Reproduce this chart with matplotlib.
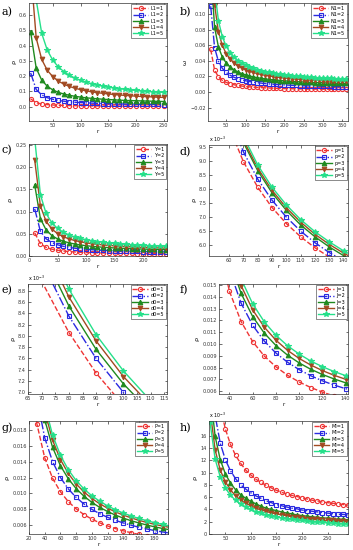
import numpy as np
import matplotlib
matplotlib.use('Agg')
import matplotlib.pyplot as plt

# ---------------- data (values in units of 1e-3) ----------------
r_a = list(range(10, 260, 10))
a_1 = [50, 25, 16.7, 12.5, 10, 8.3, 7.1, 6.3, 5.6, 5, 4.5, 4.2, 3.8, 3.6, 3.3, 3.1, 2.9, 2.8, 2.6, 2.5, 2.4, 2.3, 2.2, 2.1, 2.0]
a_2 = [220, 112, 76, 58, 48, 40, 35, 31, 28, 26, 24, 22.4, 21, 19.8, 18.8, 17.9, 17.1, 16.4, 15.8, 15.2, 14.7, 14.2, 13.8, 13.4, 13.0]
a_3 = [490, 252, 173, 133, 109, 93, 82, 74, 67, 62, 57, 54, 51, 48, 46, 44, 42, 40, 39, 38, 37, 36, 35, 34, 33]
a_4 = [900, 450, 309, 238, 196, 167, 147, 132, 120, 111, 103, 97, 91, 87, 83, 79, 76, 73, 71, 68, 66, 65, 63, 61, 60]
a_5 = [1360, 700, 480, 370, 304, 260, 229, 205, 187, 172, 160, 150, 142, 134, 128, 123, 118, 113, 109, 106, 103, 100, 97, 95, 93]

r_b = list(range(10, 370, 10))
b_1 = [54.5, 28.2, 19.4, 15.0, 12.4, 10.7, 9.4, 8.5, 7.7, 7.2, 6.7, 6.3, 5.9, 5.7, 5.4, 5.2, 5.0, 4.8,
       4.7, 4.5, 4.4, 4.3, 4.2, 4.1, 4.0, 3.9, 3.8, 3.8, 3.7, 3.7, 3.6, 3.5, 3.5, 3.4, 3.4, 3.4]
b_2 = [109.8, 56.9, 39.2, 30.4, 25.1, 21.6, 19.0, 17.1, 15.7, 14.5, 13.5, 12.7, 12.0, 11.5, 11.0, 10.5, 10.1, 9.8,
       9.5, 9.2, 8.9, 8.7, 8.5, 8.3, 8.1, 8.0, 7.8, 7.7, 7.6, 7.4, 7.3, 7.2, 7.1, 7.0, 6.9, 6.8]
b_3 = [159.3, 83.1, 57.6, 44.9, 37.3, 32.2, 28.6, 25.9, 23.7, 22.1, 20.7, 19.5, 18.5, 17.7, 17.0, 16.3, 15.8, 15.3,
       14.8, 14.4, 14.1, 13.7, 13.4, 13.2, 12.9, 12.7, 12.4, 12.2, 12.1, 11.9, 11.7, 11.6, 11.4, 11.3, 11.2, 11.0]
b_4 = [215.5, 111.7, 77.0, 59.7, 49.3, 42.4, 37.5, 33.8, 30.9, 28.6, 26.7, 25.1, 23.8, 22.6, 21.6, 20.8, 20.0, 19.3,
       18.7, 18.2, 17.7, 17.2, 16.8, 16.5, 16.1, 15.8, 15.5, 15.2, 15.0, 14.7, 14.5, 14.3, 14.1, 13.9, 13.7, 13.6]
b_5 = [253.9, 131.9, 91.2, 70.9, 58.7, 50.6, 44.8, 40.4, 37.0, 34.3, 32.1, 30.2, 28.7, 27.3, 26.2, 25.2, 24.3, 23.5,
       22.7, 22.1, 21.5, 21.0, 20.5, 20.1, 19.7, 19.3, 18.9, 18.6, 18.3, 18.0, 17.8, 17.5, 17.3, 17.1, 16.9, 16.7]

r_c = list(range(10, 250, 10))
c_1 = [52, 27.5, 19.3, 15.3, 12.8, 11.2, 10.0, 9.1, 8.4, 7.9, 7.5, 7.1, 6.8, 6.5, 6.3, 6.1, 5.9, 5.7, 5.6, 5.5, 5.3, 5.2, 5.1, 5.0]
c_2 = [106, 55.5, 38.7, 30.3, 25.2, 21.8, 19.4, 17.6, 16.2, 15.1, 14.2, 13.4, 12.8, 12.2, 11.7, 11.3, 10.9, 10.6, 10.3, 10.1, 9.8, 9.6, 9.4, 9.2]
c_3 = [160, 84, 58.7, 46, 38.4, 33.3, 29.7, 27, 24.9, 23.2, 21.8, 20.7, 19.7, 18.9, 18.1, 17.5, 16.9, 16.4, 16.0, 15.6, 15.2, 14.9, 14.6, 14.3]
c_4 = [216, 112.5, 78, 60.8, 50.4, 43.5, 38.6, 34.9, 32, 29.7, 27.8, 26.3, 24.9, 23.8, 22.8, 21.9, 21.2, 20.5, 19.9, 19.4, 18.9, 18.4, 18.0, 17.6]
c_5 = [264.4, 137.9, 95.7, 74.7, 62, 53.6, 47.5, 43, 39.5, 36.7, 34.4, 32.5, 30.9, 29.5, 28.3, 27.2, 26.3, 25.5, 24.7, 24.1, 23.4, 22.9, 22.4, 22.0]

r_d = list(range(50, 160, 10))
d_1 = [11.91, 10.20, 8.97, 8.06, 7.34, 6.77, 6.30, 5.91, 5.58, 5.30, 5.06]
d_2 = [12.42, 10.61, 9.32, 8.35, 7.60, 7.00, 6.50, 6.09, 5.74, 5.45, 5.19]
d_3 = [12.87, 10.99, 9.65, 8.65, 7.86, 7.24, 6.72, 6.30, 5.94, 5.63, 5.36]
d_4 = [12.97, 11.09, 9.74, 8.74, 7.95, 7.33, 6.82, 6.39, 6.03, 5.72, 5.45]
d_5 = [13.12, 11.22, 9.87, 8.85, 8.06, 7.43, 6.91, 6.48, 6.12, 5.80, 5.53]

r_e = list(range(60, 130, 10))
e_1 = [10.20, 8.97, 8.06, 7.34, 6.77, 6.30, 5.91]
e_2 = [10.61, 9.32, 8.35, 7.60, 7.00, 6.50, 6.09]
e_3 = [10.83, 9.52, 8.53, 7.76, 7.15, 6.65, 6.23]
e_4 = [11.04, 9.70, 8.69, 7.91, 7.28, 6.77, 6.34]
e_5 = [11.25, 9.87, 8.83, 8.02, 7.38, 6.85, 6.41]

r_f = list(range(30, 170, 10))
f_1 = [18.76, 14.48, 11.91, 10.20, 8.97, 8.06, 7.34, 6.77, 6.30, 5.91, 5.58, 5.30, 5.06, 4.84]
f_2 = [21.0, 16.30, 13.47, 11.59, 10.24, 9.23, 8.45, 7.82, 7.30, 6.87, 6.51, 6.20, 5.93, 5.70]
f_3 = [22.18, 17.26, 14.30, 12.33, 10.92, 9.87, 9.05, 8.39, 7.85, 7.41, 7.03, 6.70, 6.42, 6.17]
f_4 = [23.23, 18.06, 14.97, 12.90, 11.43, 10.32, 9.46, 8.77, 8.21, 7.74, 7.34, 7.00, 6.71, 6.45]
f_5 = [24.08, 18.74, 15.54, 13.41, 11.88, 10.74, 9.85, 9.14, 8.55, 8.07, 7.66, 7.31, 7.00, 6.73]

r_g = list(range(20, 210, 10))
g_1 = [27.33, 18.76, 14.48, 11.91, 10.20, 8.97, 8.06, 7.34, 6.77, 6.30, 5.91, 5.58, 5.30, 5.06, 4.84, 4.65, 4.49, 4.34, 4.20]
g_2 = [32.0, 22.0, 17.0, 14.0, 12.0, 10.57, 9.5, 8.67, 8.0, 7.45, 7.0, 6.62, 6.29, 6.0, 5.75, 5.53, 5.33, 5.16, 5.0]
g_3 = [36.56, 25.03, 19.26, 15.80, 13.49, 11.85, 10.61, 9.65, 8.88, 8.25, 7.73, 7.28, 6.90, 6.57, 6.29, 6.03, 5.80, 5.60, 5.42]
g_4 = [38.69, 26.47, 20.37, 16.70, 14.26, 12.51, 11.20, 10.18, 9.37, 8.70, 8.15, 7.68, 7.28, 6.93, 6.62, 6.35, 6.11, 5.90, 5.71]
g_5 = [40.23, 27.51, 21.16, 17.34, 14.80, 12.98, 11.62, 10.56, 9.71, 9.02, 8.44, 7.95, 7.53, 7.17, 6.85, 6.57, 6.32, 6.10, 5.90]

r_h = list(range(20, 300, 10))
h_1 = [39.6, 27.1, 20.8, 17.1, 14.6, 12.8, 11.5, 10.4, 9.6, 8.9, 8.4, 7.9, 7.5, 7.1, 6.8, 6.5, 6.3, 6.1,
       5.9, 5.7, 5.5, 5.4, 5.2, 5.1, 5.0, 4.9, 4.8, 4.7]
h_2 = [28.4, 19.3, 14.8, 12.1, 10.3, 9.0, 8.0, 7.3, 6.7, 6.2, 5.8, 5.4, 5.1, 4.8, 4.6, 4.4, 4.2, 4.1,
       3.9, 3.8, 3.7, 3.6, 3.5, 3.4, 3.3, 3.2, 3.2, 3.1]
h_3 = [23.5, 15.9, 12.1, 9.8, 8.3, 7.2, 6.4, 5.8, 5.3, 4.9, 4.5, 4.2, 4.0, 3.8, 3.6, 3.4, 3.3, 3.1,
       3.0, 2.9, 2.8, 2.7, 2.6, 2.6, 2.5, 2.4, 2.4, 2.3]
h_4 = [20.2, 13.7, 10.4, 8.5, 7.2, 6.2, 5.5, 5.0, 4.6, 4.2, 3.9, 3.7, 3.4, 3.3, 3.1, 3.0, 2.8, 2.7,
       2.6, 2.5, 2.4, 2.4, 2.3, 2.2, 2.2, 2.1, 2.1, 2.0]
h_5 = [18.2, 12.2, 9.3, 7.5, 6.3, 5.5, 4.9, 4.4, 4.0, 3.6, 3.4, 3.1, 2.9, 2.8, 2.6, 2.5, 2.4, 2.3,
       2.2, 2.1, 2.0, 2.0, 1.9, 1.8, 1.8, 1.7, 1.7, 1.6]

# ---------------- styles ----------------
cores = ['#ee3535', '#2a2ae0', '#1f8a1f', '#a24a22', '#25e08a']
estilos = ['--', '-.', '-', '-', '-']
marcas = ['o', 's', '^', 'v', '*']
faces = ['none', 'none', None, None, None]
tamanhos = [3.0, 3.3, 3.3, 3.3, 4.0]

W, H = 353, 550
fig = plt.figure(figsize=(W / 100, H / 100), dpi=100)


def eixo(x0, y0, x1, y1):
    return fig.add_axes([x0 / W, 1 - y1 / H, (x1 - x0) / W, (y1 - y0) / H])


def painel(ax, r, series, nome, letra, lx, ly, xlim, ylim, xt, yt, ylabel, escala=1.0, sci=False):
    for i, s in enumerate(series):
        ax.plot(r, np.array(s) * 1e-3 / escala, color=cores[i], ls=estilos[i], lw=1.0,
                marker=marcas[i], ms=tamanhos[i], mfc=(faces[i] or cores[i]), mew=0.8,
                label='%s=%d' % (nome, i + 1))
    ax.set_xlim(*xlim)
    ax.set_ylim(*ylim)
    ax.set_xticks(xt)
    ax.set_yticks(yt)
    ax.tick_params(direction='in', labelsize=3.6, length=1.8, width=0.4, pad=1.5, top=True, right=True,
                   labelcolor='#333333')
    for sp in ax.spines.values():
        sp.set_linewidth(0.5)
        sp.set_color('#333333')
    ax.set_xlabel('r', fontsize=4, labelpad=1)
    ax.set_ylabel(ylabel, fontsize=4.5, labelpad=2)
    leg = ax.legend(loc='upper right', fontsize=3.5, handlelength=3.2, borderpad=0.35,
                    labelspacing=0.25, handletextpad=0.5, framealpha=1, fancybox=False,
                    borderaxespad=0.3)
    leg.get_frame().set_linewidth(0.4)
    leg.get_frame().set_edgecolor('#333333')
    if sci:
        ax.text(0, 1.005, r'x 10$^{-3}$', transform=ax.transAxes, fontsize=3.4, va='bottom', ha='left')
    fig.text(lx / W, 1 - ly / H, letra, fontsize=8, family='DejaVu Serif', va='center', ha='left')


ax = eixo(29, 3, 167, 121)
painel(ax, r_a, [a_1, a_2, a_3, a_4, a_5], 'L1', 'a)', 2, 12, (7, 256), (-0.095, 0.68),
       [50, 100, 150, 200, 250], [0, 0.1, 0.2, 0.3, 0.4, 0.5, 0.6], 'ρ')

ax = eixo(208, 3, 348, 121)
painel(ax, r_b, [b_1, b_2, b_3, b_4, b_5], 'N1', 'b)', 180, 12, (3, 365), (-0.037, 0.114),
       [50, 100, 150, 200, 250, 300, 350], [-0.02, 0, 0.02, 0.04, 0.06, 0.08, 0.1], 'ω')

ax = eixo(29, 144, 167, 256)
painel(ax, r_c, [c_1, c_2, c_3, c_4, c_5], 'Y', 'c)', 2, 150, (0, 242), (0, 0.252),
       [0, 50, 100, 150, 200], [0, 0.05, 0.1, 0.15, 0.2, 0.25], 'ρ')

ax = eixo(209, 145, 348, 256)
painel(ax, r_d, [d_1, d_2, d_3, d_4, d_5], 'p', 'd)', 180, 152, (46, 143), (5.62, 9.56),
       [60, 70, 80, 90, 100, 110, 120, 130, 140], [6, 6.5, 7, 7.5, 8, 8.5, 9, 9.5], 'ρ',
       escala=1e-3, sci=True)

ax = eixo(28, 284, 167, 394)
painel(ax, r_e, [e_1, e_2, e_3, e_4, e_5], 'd0', 'e)', 2, 290, (65, 116), (6.97, 8.92),
       [65, 70, 75, 80, 85, 90, 95, 100, 105, 110, 115], [7, 7.2, 7.4, 7.6, 7.8, 8, 8.2, 8.4, 8.6, 8.8], 'ρ',
       escala=1e-3, sci=True)

ax = eixo(219, 284, 348, 394)
painel(ax, r_f, [f_1, f_2, f_3, f_4, f_5], 'J', 'f)', 180, 290, (31, 142), (0.00575, 0.0151),
       [40, 60, 80, 100, 120, 140], [0.006, 0.007, 0.008, 0.009, 0.01, 0.011, 0.012, 0.013, 0.014, 0.015], 'ρ')

ax = eixo(29, 421, 168, 534)
painel(ax, r_g, [g_1, g_2, g_3, g_4, g_5], 'P', 'g)', 2, 428, (20, 197), (0.0049, 0.0191),
       [20, 40, 60, 80, 100, 120, 140, 160, 180], [0.006, 0.008, 0.01, 0.012, 0.014, 0.016, 0.018], 'ρ')

ax = eixo(209, 421, 348, 534)
painel(ax, r_h, [h_1, h_2, h_3, h_4, h_5], 'MI', 'h)', 180, 428, (18, 290), (0, 18.4),
       [50, 100, 150, 200, 250], [0, 2, 4, 6, 8, 10, 12, 14, 16], 'ρ', escala=1e-3, sci=True)

fig.savefig('out.png', dpi=100)
